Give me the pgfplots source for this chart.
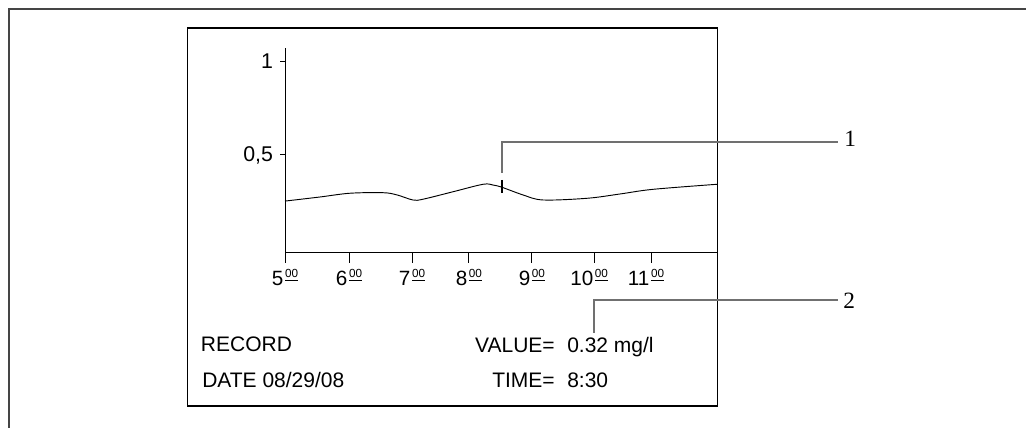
\documentclass[border=0pt]{standalone}
\usepackage{fontspec}
\setmainfont{Liberation Sans}
\newfontfamily\serifnum{Liberation Serif}
\usepackage{pgfplots}
\pgfplotsset{compat=1.18}
\newcommand{\tl}[1]{\makebox[0pt][r]{#1\kern1.2pt}\makebox[0pt][l]{\raisebox{5.6pt}{\fontsize{8.8}{9}\selectfont\underline{00}}}}
\definecolor{frame}{HTML}{454545}
\definecolor{callout}{HTML}{707070}
\begin{document}
\begin{tikzpicture}[x=0.75pt,y=0.75pt]
\path[use as bounding box] (0,0) rectangle (1026,428);
% outer frame (open at right and bottom)
\draw[frame, line width=1.6pt] (9,0) -- (9,419) -- (1026,419);
% inner box
\draw[black, line width=0.8pt] (187.5,22) rectangle (717.5,400);
\coordinate (A) at (285,175);
\begin{axis}[
  at={(A)}, anchor=south west,
  scale only axis, width=324pt, height=153.75pt,
  xmin=5, xmax=11.857, ymin=-0.025, ymax=1.073,
  axis x line=bottom, axis y line=left, axis line style={-, line width=0.75pt},
  tick align=outside,
  xtick={5,6.016,7.016,7.92,8.92,9.92,10.81},
  xticklabels={\tl{5},\tl{6},\tl{7},\tl{8},\tl{9},\tl{10},\tl{11}},
  ytick={0.5,1}, yticklabels={{0,5},1},
  x tick style={black, line width=0.75pt, /pgfplots/major tick length=7.5pt},
  y tick style={black, line width=0.75pt, /pgfplots/major tick length=3.75pt},
  xticklabel style={font=\fontsize{15.5}{15}\selectfont, inner sep=0pt, anchor=base, yshift=-20pt},
  yticklabel style={font=\fontsize{16}{16}\selectfont, inner sep=0pt, xshift=-4.5pt},
  clip=false,
]
\addplot[black, line width=0.7pt, smooth, tension=0.55] coordinates {
  (5.000,0.253) (5.556,0.275) (6.030,0.295) (6.556,0.298) (6.778,0.286)
  (7.030,0.259) (7.190,0.263) (7.667,0.303) (8.143,0.343) (8.302,0.339)
  (8.444,0.327) (8.778,0.286) (9.095,0.259) (9.794,0.268) (10.317,0.291)
  (10.841,0.316) (11.857,0.343)
};
\addplot[only marks, mark=|, mark size=4.9pt, mark options={line width=1.5pt, black}] coordinates {(8.444,0.331)};
\end{axis}
% callouts
\draw[callout, line width=0.8pt] (502,255) -- (502,286) -- (838,286);
\draw[callout, line width=0.8pt] (594,95) -- (594,128) -- (838,128);
\node[anchor=base west, inner sep=0pt, font=\serifnum\fontsize{17.5}{17}\selectfont] at (844,281.3) {1};
\node[anchor=base west, inner sep=0pt, font=\serifnum\fontsize{17.5}{17}\selectfont] at (843,119) {2};
% texts
\tikzset{txt/.style={inner sep=0pt, font=\fontsize{15.75}{16}\selectfont}}
\node[txt, anchor=base west] at (200.7,76) {RECORD};
\node[txt, anchor=base west] at (202,40) {DATE 08/29/08};
\node[txt, anchor=base east] at (555,75) {VALUE=};
\node[txt, anchor=base west] at (567,75) {0.32 mg/l};
\node[txt, anchor=base east] at (555,40) {TIME=};
\node[txt, anchor=base west] at (567,40) {8:30};
\end{tikzpicture}
\end{document}
